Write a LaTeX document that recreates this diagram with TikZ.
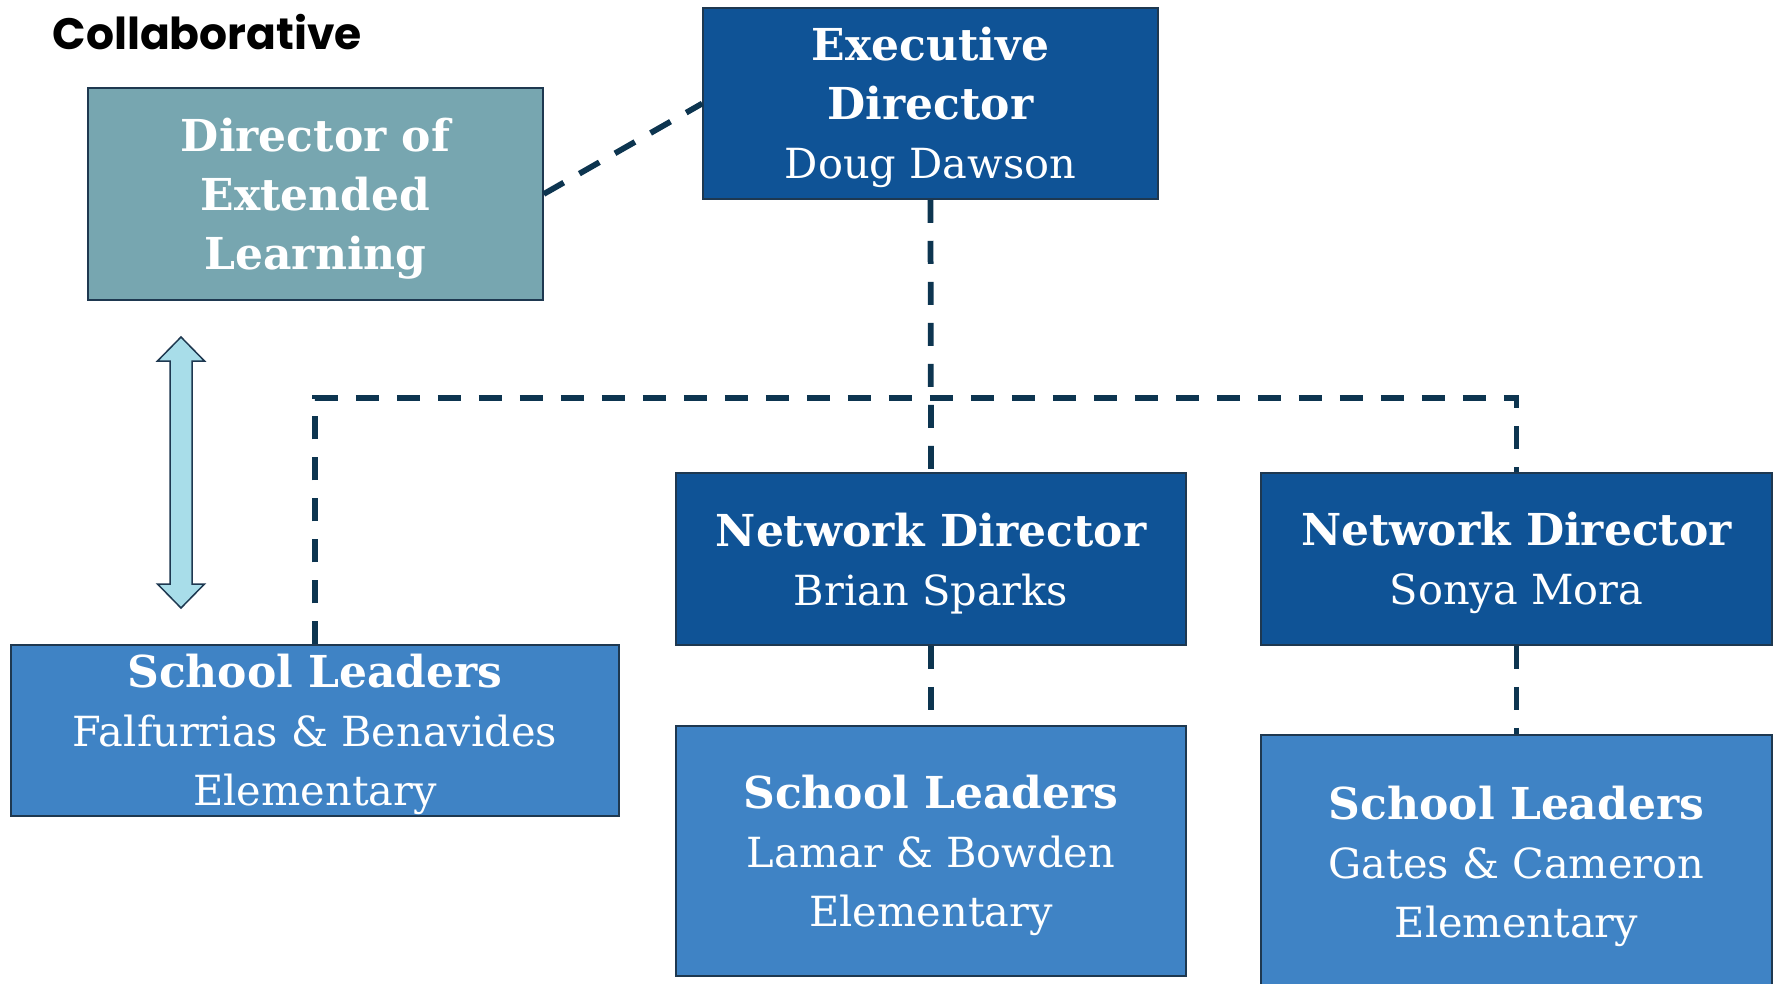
\documentclass[tikz,border=0pt]{standalone}
\usepackage{fontspec}
\setmainfont{DejaVu Serif}
\newfontfamily\collabfont{Poppins}
\definecolor{teal}{HTML}{77A6B0}
\definecolor{navybox}{HTML}{0F5396}
\definecolor{midblue}{HTML}{3F83C5}
\definecolor{edge}{HTML}{1E3850}
\definecolor{dashc}{HTML}{0D3550}
\definecolor{lightarrow}{HTML}{A8DDE9}
\tikzset{
  orgbox/.style={draw=edge, line width=1.5pt, text=white, align=center, inner sep=0pt,
    font=\fontsize{41.5}{59}\selectfont},
  dashlink/.style={draw=dashc, line width=5.75pt, dash pattern=on 23pt off 18pt}
}
\newcommand{\hd}[1]{\rule{0pt}{42pt}{\bfseries\fontsize{44}{59}\selectfont #1}}
\newcommand{\hdd}[1]{{\bfseries\fontsize{44}{59}\selectfont #1}}
\begin{document}
\begin{tikzpicture}[x=1pt,y=-1pt]
\useasboundingbox (0,0) rectangle (1775,983);
\fill[white] (0,0) rectangle (1775,983);
\node[anchor=base west, font=\collabfont\bfseries\fontsize{44}{52}\selectfont] (collab) at (49,49) {Collaborative};
\node[orgbox, fill=teal, minimum width=455pt, minimum height=212pt] (del) at (315.5,194) {\hd{Director of}\\\hdd{Extended}\\\hdd{Learning}};
\node[orgbox, fill=navybox, minimum width=455pt, minimum height=191pt] (exec) at (930.5,103.5) {\hd{Executive}\\\hdd{Director}\\Doug Dawson};
\node[orgbox, fill=navybox, minimum width=510pt, minimum height=172pt] (nd1) at (931,559) {\hd{Network Director}\\Brian Sparks};
\node[orgbox, fill=navybox, minimum width=511pt, minimum height=172pt] (nd2) at (1516.5,559) {\hd{Network Director}\\Sonya Mora};
\node[orgbox, fill=midblue, minimum width=608pt, minimum height=171pt] (sl0) at (315,730.5) {\hd{School Leaders}\\Falfurrias \& Benavides\\Elementary};
\node[orgbox, fill=midblue, minimum width=510pt, minimum height=250pt] (sl1) at (931,851) {\hd{School Leaders}\\Lamar \& Bowden\\Elementary};
\node[orgbox, fill=midblue, minimum width=511pt, minimum height=255pt] (sl2) at (1516.5,862.5) {\hd{School Leaders}\\Gates \& Cameron\\Elementary};
\coordinate (hub) at (930.5,398);
\draw[dashlink] (del.east) -- (exec.west);
\draw[dashlink] (exec.south) -- (nd1.north);
\draw[dashlink] (sl0.north) |- (hub) -| (nd2.north);
\draw[dashlink] (nd1.south) -- (sl1.north);
\draw[dashlink] (nd2.south) -- (sl2.north);
\draw[draw=edge, line width=1.5pt, fill=lightarrow, line join=miter]
  (181,337) -- (204.5,361) -- (192,361) -- (192,584) -- (204.5,584) -- (181,608)
  -- (157.5,584) -- (170,584) -- (170,361) -- (157.5,361) -- cycle;
\end{tikzpicture}
\end{document}
